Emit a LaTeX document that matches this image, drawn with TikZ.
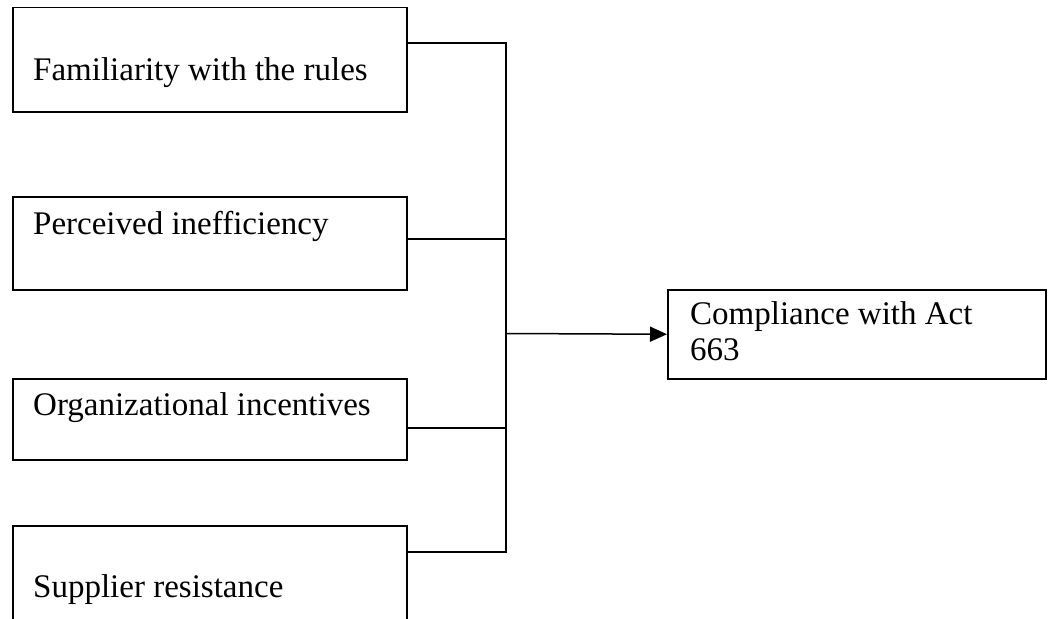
\documentclass[tikz,border=0pt]{standalone}
\usepackage{fontspec}
\setmainfont{Liberation Serif}
\usetikzlibrary{arrows.meta}
\begin{document}
\begin{tikzpicture}[x=1pt,y=-1pt,
  box/.style={draw, line width=1.5pt, minimum width=394pt, inner sep=0pt, anchor=north west},
  lbl/.style={anchor=base west, inner sep=0pt, font=\fontsize{33}{36}\selectfont},
  wire/.style={line width=1.5pt}]
\useasboundingbox (0,0) rectangle (1051,618);
\clip (0,0) rectangle (1051,618);
\fill[white] (0,0) rectangle (1051,618);
% input boxes
\node[box, minimum height=104pt] (b1) at (12,7) {};
\node[box, minimum height=93pt] (b2) at (12,196) {};
\node[box, minimum height=81pt] (b3) at (12,378) {};
\node[box, minimum height=120pt] (b4) at (12,525) {};
% outcome box
\node[box, minimum width=378pt, minimum height=89pt] (rb) at (667,289) {};
% labels
\node[lbl] (t1) at (33,80) {Familiarity with the rules};
\node[lbl] (t2) at (33,234) {Perceived inefficiency};
\node[lbl] (t3) at (33,415) {Organizational incentives};
\node[lbl] (t4) at (33,597) {Supplier resistance};
\node[lbl] (r1) at (690,324) {Compliance with Act};
\node[lbl] (r2) at (690,360) {663};
% junctions
\coordinate (j1) at (506,43);
\coordinate (j2) at (506,239);
\coordinate (j3) at (506,428);
\coordinate (j4) at (506,552);
\coordinate (jm) at (506,333.5);
% connectors
\draw[wire] (b1.east |- j1) -- (j1) -- (j4) -- (b4.east |- j4);
\draw[wire] (b2.east |- j2) -- (j2);
\draw[wire] (b3.east |- j3) -- (j3);
\draw[wire, -{Triangle[length=17pt,width=15pt]}] (jm) -- (rb.west);
\end{tikzpicture}
\end{document}
